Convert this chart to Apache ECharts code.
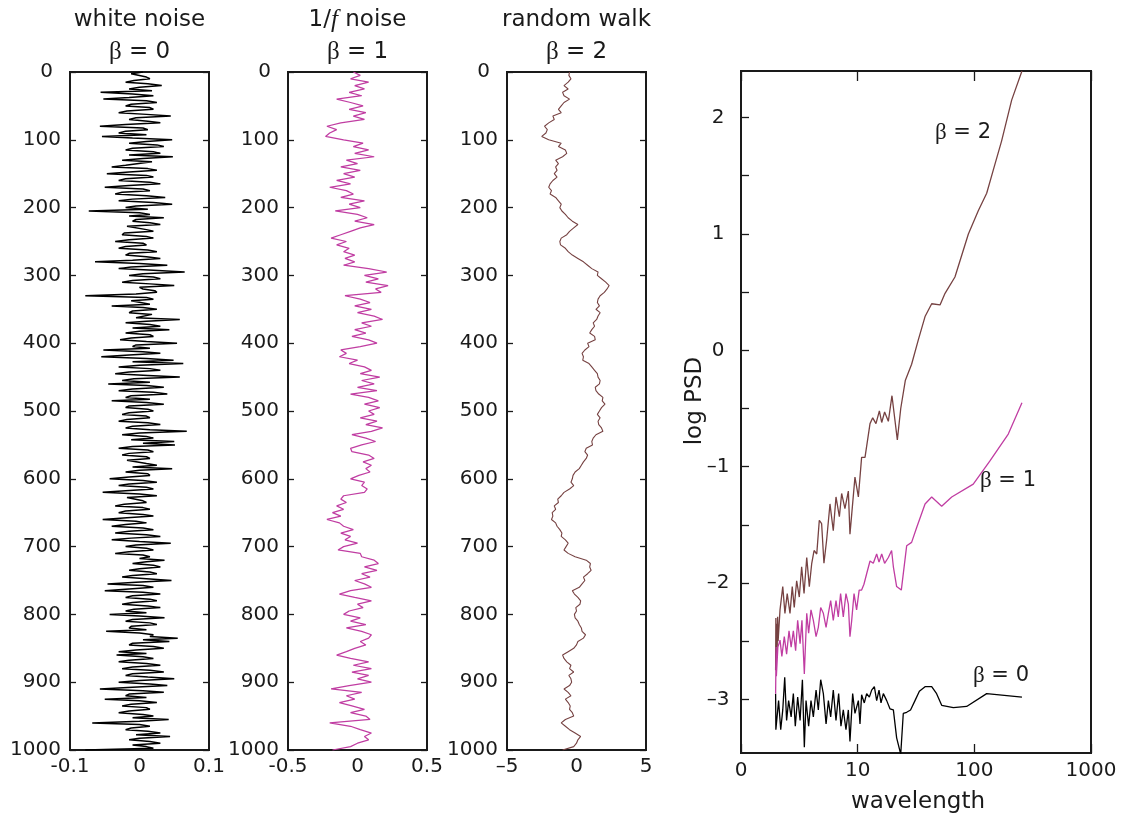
<!DOCTYPE html>
<html><head><meta charset="utf-8">
<script src="https://cdn.jsdelivr.net/npm/echarts@6/dist/echarts.min.js"></script>
<style>html,body{margin:0;padding:0;background:#fff}#c{width:1128px;height:814px}</style>
</head><body><div id="c"></div>
<script>
// ---------------- DATA ----------------
// depth sampling of the time series
const whiteStep = 2.5;   // white noise sampled every 2.5 depth units
const depthStep = 5;     // 1/f noise and random walk sampled every 5 units

const whiteNoise = [
0.005,-0.012,-0.01,0.01,0.015,-0.008,-0.02,0.012,0.032,0.0,-0.015,0.018,-0.056,-0.01,0.02,-0.015,-0.052,0.01,0.025,-0.012,
-0.02,0.015,0.02,-0.018,-0.03,0.01,0.045,-0.005,-0.015,0.012,0.03,-0.02,-0.057,0.005,0.012,-0.02,-0.03,0.01,-0.054,-0.01,
0.047,0.01,-0.015,0.025,0.035,-0.01,-0.02,0.02,0.03,-0.015,0.048,0.005,-0.025,0.018,0.02,-0.02,-0.04,0.012,0.025,-0.015,
-0.047,0.01,0.02,-0.02,-0.03,0.015,0.03,-0.015,-0.05,0.005,0.015,-0.025,-0.035,0.01,0.037,-0.01,-0.03,0.02,0.047,-0.005,
-0.02,0.012,-0.073,0.0,0.015,-0.015,0.035,-0.005,-0.01,0.015,0.03,-0.018,-0.02,0.01,0.02,-0.022,-0.025,0.01,0.02,-0.015,
-0.035,0.005,0.01,-0.02,-0.03,0.012,0.025,-0.015,-0.02,0.01,0.03,-0.01,-0.064,0.0,0.04,-0.012,-0.03,0.02,0.065,0.005,
-0.015,0.02,0.03,-0.01,-0.025,0.015,0.05,0.0,0.005,0.022,0.025,-0.005,-0.078,0.01,0.02,-0.012,-0.01,0.015,-0.04,0.005,
0.025,-0.01,-0.015,0.018,0.02,-0.005,0.058,0.01,-0.02,0.015,0.03,-0.01,0.043,0.0,-0.02,0.015,0.02,-0.012,-0.028,0.01,
0.054,-0.005,-0.01,0.015,-0.052,0.005,0.03,-0.015,-0.055,0.01,0.049,-0.01,0.063,0.0,-0.03,0.015,0.03,-0.015,-0.035,0.012,
0.058,-0.008,-0.025,0.015,-0.045,0.01,0.035,-0.01,-0.03,0.02,0.04,-0.012,-0.02,0.015,-0.04,0.01,0.035,-0.015,-0.02,0.012,
0.02,-0.015,-0.025,0.01,0.015,-0.018,-0.03,0.012,0.03,-0.01,-0.02,0.015,0.068,0.0,-0.025,0.01,0.02,-0.012,0.05,0.005,
0.051,-0.01,-0.03,0.012,0.02,-0.015,-0.025,0.01,0.015,-0.018,-0.02,0.01,0.025,-0.01,0.047,0.0,-0.02,0.012,0.015,-0.015,
-0.043,0.005,0.025,-0.015,-0.03,0.01,0.02,-0.02,-0.053,0.0,0.025,-0.018,-0.02,0.005,0.01,-0.022,-0.035,0.005,0.015,-0.02,
-0.03,0.005,0.02,-0.018,-0.053,-0.005,0.01,-0.02,-0.04,0.005,0.02,-0.015,-0.035,0.01,0.03,-0.012,-0.04,0.0,0.045,-0.005,
-0.02,0.01,0.02,-0.015,-0.035,0.005,0.015,0.0,0.036,0.01,-0.01,0.02,0.03,0.0,-0.015,0.015,0.025,-0.01,-0.025,0.01,
0.046,-0.005,-0.046,0.005,0.02,-0.015,-0.05,0.005,0.03,-0.01,-0.02,0.015,0.025,-0.01,-0.025,0.012,0.03,-0.008,-0.02,0.01,
-0.043,0.0,0.036,-0.01,-0.02,0.015,0.025,-0.012,-0.015,0.01,-0.048,0.0,0.02,0.015,0.055,0.005,0.043,-0.01,-0.015,0.02,
0.035,-0.005,-0.03,0.01,-0.033,0.005,0.02,-0.015,-0.03,0.01,0.03,-0.01,-0.025,0.015,0.035,-0.01,-0.02,0.012,0.05,0.0,
-0.03,0.015,0.04,-0.01,-0.057,0.005,0.035,-0.015,-0.02,0.01,-0.05,0.0,0.025,-0.012,-0.025,0.01,0.015,-0.015,-0.03,0.005,
0.02,-0.01,0.042,0.0,-0.068,0.0,0.015,-0.012,-0.02,0.012,0.03,-0.005,0.044,0.0,-0.015,0.015,0.03,-0.01,0.01,0.02,
-0.078
];

const pinkNoise = [
-0.03,0.02,-0.05,0.08,-0.02,0.05,-0.06,0.03,-0.15,-0.05,
0.04,-0.06,0.06,-0.03,0.05,-0.12,-0.22,-0.15,-0.2,-0.23,
-0.1,0.04,-0.03,0.08,-0.02,0.12,-0.08,0.0,-0.12,0.02,
-0.1,-0.02,-0.15,-0.05,-0.2,-0.08,-0.03,-0.12,0.05,-0.06,
0.02,-0.16,0.0,0.07,-0.02,0.12,0.02,-0.05,-0.12,-0.19,
-0.08,-0.15,-0.06,-0.1,-0.02,-0.09,-0.02,-0.1,0.08,0.21,
0.05,0.15,0.06,0.22,0.13,0.17,-0.09,0.02,0.09,-0.02,
0.1,0.0,0.12,0.18,0.03,0.1,-0.02,0.06,-0.04,0.08,
0.14,0.02,-0.12,-0.08,-0.13,0.0,-0.06,0.05,0.1,0.02,
0.16,0.03,0.12,0.0,0.14,-0.05,0.08,0.15,0.05,0.16,
0.08,0.12,0.02,0.14,0.06,0.18,0.1,-0.04,0.06,0.13,
0.03,-0.05,-0.04,0.08,0.12,0.04,0.1,0.06,0.09,0.01,
-0.05,0.05,0.03,0.07,0.05,-0.1,-0.12,-0.08,-0.15,-0.1,
-0.18,-0.12,-0.22,-0.13,-0.1,-0.03,-0.12,-0.05,-0.09,0.0,
-0.1,-0.14,0.02,0.03,0.12,0.15,0.05,0.14,0.03,0.09,
-0.02,0.05,0.1,-0.05,-0.13,-0.02,0.1,0.0,0.04,-0.06,
-0.1,0.02,-0.05,0.06,-0.08,0.03,0.1,0.08,0.02,0.06,
-0.02,-0.08,-0.15,-0.05,0.08,-0.03,0.1,-0.04,0.08,0.0,
0.1,-0.06,-0.19,0.03,-0.08,-0.02,-0.13,-0.04,0.05,-0.05,
0.06,0.09,-0.2,-0.05,0.02,0.1,0.05,0.08,0.0,-0.05,
-0.18
];

const randomWalk = [
-0.5,-0.55,-0.4,-0.6,-0.9,-0.6,-1.0,-0.9,-0.5,-0.9,
-1.1,-1.3,-1.1,-1.7,-1.6,-2.0,-2.3,-2.1,-2.2,-2.5,
-2.0,-1.1,-1.3,-0.8,-0.7,-1.0,-1.5,-1.3,-1.5,-1.4,
-1.6,-1.4,-1.7,-1.9,-2.0,-1.8,-1.9,-1.5,-1.3,-1.1,
-1.2,-1.05,-0.8,-0.6,-0.3,0.1,-0.2,-0.5,-0.7,-1.1,
-1.2,-1.15,-0.8,-0.6,-0.3,0.1,0.5,0.8,1.1,1.55,
1.5,1.8,2.1,2.35,2.2,2.0,1.7,1.55,1.5,1.65,
1.4,1.7,1.55,1.45,1.2,1.3,1.1,0.95,1.3,1.35,
0.8,0.9,0.6,0.4,0.5,0.45,0.9,1.1,1.3,1.5,
1.55,1.7,1.65,1.35,1.4,1.6,1.9,1.85,2.05,1.8,
1.65,1.5,1.7,1.55,1.6,1.8,1.9,1.4,1.2,1.1,
1.15,0.7,0.6,0.8,0.7,0.5,0.35,0.2,-0.1,-0.25,
-0.3,-0.4,-0.2,-0.5,-0.9,-1.1,-1.35,-1.3,-1.6,-1.5,
-1.75,-1.7,-1.8,-1.5,-1.4,-1.2,-1.05,-1.1,-0.8,-0.6,
-0.75,-0.9,-0.6,-0.1,0.7,1.0,0.95,1.05,0.8,0.5,
0.6,0.4,0.2,-0.3,-0.15,0.1,0.3,0.25,-0.05,0.0,
-0.15,-0.1,0.1,0.2,0.35,0.4,0.65,0.5,0.1,0.0,
-0.2,-0.6,-1.0,-0.9,-0.7,-0.4,-0.5,-0.2,-0.55,-0.4,
-0.35,-0.5,-0.9,-0.6,-0.4,-0.8,-0.6,-0.45,-0.5,-0.3,
-0.2,-0.8,-1.1,-0.8,-0.5,-0.1,0.3,0.1,0.0,-0.2,
-1.0
];

// power spectra: wavelength (log axis) and log PSD
const psdB0Wavelength = [1.98,1.99,2.04,2.10,2.19,2.28,2.37,2.46,2.56,2.69,2.81,2.92,3.06,3.21,3.36,3.49,3.61,3.80,3.98,4.17,4.40,4.60,4.82,5.08,5.36,5.61,5.87,6.18,6.52,6.87,7.19,7.53,7.94,8.32,8.59,9.06,9.48,10.14,10.47,10.81,11.40,11.94,12.59,13.18,13.90,14.55,15.24,15.85,16.6,17.74,18.92,20.23,21.58,23.39,24.6,26.3,28.4,31.0,33.8,37.8,43.1,47.5,52.5,66.1,85.9,127.6,256];
const psdB0 = [-2.95,-3.26,-3.26,-3.01,-3.26,-3.09,-2.81,-3.18,-3.01,-3.15,-2.95,-3.23,-2.98,-3.18,-2.83,-3.41,-3.01,-3.23,-3.01,-3.15,-2.92,-3.09,-2.83,-2.95,-3.21,-3.01,-3.15,-2.92,-3.18,-2.95,-3.23,-3.09,-3.26,-3.09,-3.36,-2.95,-3.12,-3.01,-3.21,-2.96,-3.03,-2.95,-2.98,-2.92,-2.89,-3.01,-2.92,-3.03,-2.95,-3.01,-3.08,-3.09,-3.33,-3.47,-3.12,-3.11,-3.09,-3.01,-2.93,-2.89,-2.89,-2.95,-3.05,-3.07,-3.06,-2.95,-2.98];

const psdB1Wavelength = [1.98,2.0,2.01,2.07,2.16,2.24,2.35,2.46,2.58,2.69,2.81,2.94,3.06,3.21,3.33,3.49,3.66,3.80,3.98,4.17,4.40,4.60,4.82,5.08,5.36,5.61,5.87,6.18,6.52,6.82,7.14,7.53,7.94,8.32,8.59,8.89,9.31,9.79,10.3,10.81,11.32,11.94,12.76,13.61,14.55,15.24,16.07,17.02,18.32,19.54,20.23,21.58,23.66,26.3,29.0,32.1,37.8,43.1,52.5,64.0,97.9,136.1,195.4,256];
const psdB1 = [-2.95,-2.55,-2.8,-2.55,-2.49,-2.63,-2.46,-2.61,-2.41,-2.55,-2.41,-2.58,-2.32,-2.52,-2.32,-2.78,-2.26,-2.43,-2.23,-2.32,-2.46,-2.38,-2.21,-2.26,-2.38,-2.26,-2.15,-2.32,-2.15,-2.29,-2.09,-2.29,-2.09,-2.18,-2.46,-2.32,-2.09,-2.23,-2.06,-2.06,-2.01,-1.92,-1.81,-1.83,-1.75,-1.82,-1.75,-1.83,-1.78,-1.72,-1.86,-2.03,-2.06,-1.68,-1.65,-1.52,-1.32,-1.26,-1.34,-1.26,-1.15,-0.95,-0.72,-0.45];

const psdB2Wavelength = [1.98,1.99,2.0,2.02,2.04,2.06,2.08,2.16,2.28,2.38,2.49,2.63,2.75,2.86,3.0,3.16,3.31,3.47,3.66,3.85,4.04,4.23,4.46,4.69,4.91,5.14,5.42,5.79,6.18,6.52,6.97,7.29,7.78,8.32,8.59,8.89,9.48,10.14,10.81,11.56,12.76,13.46,14.35,15.35,16.07,17.02,18.32,19.68,21.88,23.4,25.6,29.0,33.1,37.8,43.1,50.8,56.1,68.2,88.9,108.1,127.6,145.5,171.4,208.9,256];
const psdB2 = [-2.75,-2.3,-2.7,-2.35,-2.62,-2.29,-2.5,-2.23,-2.03,-2.26,-2.09,-2.26,-2.03,-2.21,-1.98,-2.12,-1.86,-2.09,-1.78,-2.03,-1.83,-1.72,-1.75,-1.46,-1.49,-1.83,-1.63,-1.32,-1.55,-1.26,-1.43,-1.23,-1.36,-1.21,-1.58,-1.41,-1.09,-1.26,-0.92,-0.92,-0.63,-0.58,-0.63,-0.52,-0.62,-0.53,-0.61,-0.39,-0.77,-0.5,-0.26,-0.12,0.09,0.29,0.4,0.39,0.49,0.63,1.0,1.2,1.35,1.55,1.8,2.15,2.4];

// tick values
const psdLabelTicks = [-3,-2,-1,0,1,2];
const psdMinorTicks = [-3,-2.5,-2,-1.5,-1,-0.5,0,0.5,1,1.5,2];

// ---------------- CHART ----------------
const FONT = 'DejaVu Sans';
const TXT = '#1a1a1a';
const FRAME = '#1a1a1a';
const C0 = '#000000', C1 = '#c03da2', C2 = '#764242';

const chart = echarts.init(document.getElementById('c'), null, {renderer: 'canvas'});

const fmtDec = v => (Math.abs(v) < 1e-9 ? '0' : (v < 0 ? '-' + Math.abs(v).toFixed(1) : v.toFixed(1)));
const panels = [
  {left: 70, data: whiteNoise, step: whiteStep, min: -0.1, max: 0.1, interval: 0.1, color: C0, width: 1.5, fmt: fmtDec},
  {left: 288, data: pinkNoise, step: depthStep, min: -0.5, max: 0.5, interval: 0.5, color: C1, width: 1.25, fmt: fmtDec},
  {left: 507, data: randomWalk, step: depthStep, min: -5, max: 5, interval: 5, color: C2, width: 1.1, fmt: v => (Math.abs(v) < 1e-9 ? '0' : (v < 0 ? '\u2013' + Math.abs(v) : String(v)))}
];
const PW = 139, PTOP = 72, PH = 678;

const grid = [], xAxis = [], yAxis = [], series = [];
const tickStyle = {color: FRAME, width: 1.3};
panels.forEach((p, i) => {
  grid.push({left: p.left, top: PTOP, width: PW, height: PH, show: true, borderColor: FRAME, borderWidth: 2, backgroundColor: 'transparent'});
  xAxis.push({
    type: 'value', gridIndex: i, min: p.min, max: p.max, interval: p.interval,
    axisLine: {show: false, onZero: false}, axisTick: {show: false}, splitLine: {show: false},
    axisLabel: {formatter: p.fmt, fontSize: 20, fontFamily: FONT, color: TXT, margin: 7, showMinLabel: true, showMaxLabel: true}
  });
  yAxis.push({
    type: 'value', gridIndex: i, inverse: true, min: 0, max: 1000, interval: 100, position: 'left',
    axisLine: {show: false, onZero: false}, splitLine: {show: false},
    axisTick: {show: true, inside: true, length: 6, lineStyle: tickStyle},
    axisLabel: {
      fontSize: 20, fontFamily: FONT, color: TXT, margin: 9,
      formatter: v => (v === 0 ? '{z|0}' : String(v)),
      rich: {z: {padding: [0, 8, 0, 0], fontSize: 20, fontFamily: FONT, color: TXT}}
    }
  });
  yAxis.push({
    type: 'value', gridIndex: i, inverse: true, min: 0, max: 1000, interval: 100, position: 'right',
    axisLine: {show: false, onZero: false}, splitLine: {show: false}, axisLabel: {show: false},
    axisTick: {show: true, inside: true, length: 6, lineStyle: tickStyle}
  });
  series.push({
    type: 'line', xAxisIndex: i, yAxisIndex: i * 2, showSymbol: false, symbol: 'none',
    data: p.data.map((v, k) => [v, k * p.step]),
    lineStyle: {color: p.color, width: p.width}, itemStyle: {color: p.color}, clip: true, z: 3
  });
});

// spectrum panel
grid.push({left: 741, top: 71, width: 350, height: 682, show: true, borderColor: FRAME, borderWidth: 2, backgroundColor: 'transparent'});
xAxis.push({
  type: 'log', logBase: 10, gridIndex: 3, min: 1, max: 1000, position: 'bottom',
  axisLine: {show: false, onZero: false}, splitLine: {show: false}, minorTick: {show: false},
  axisTick: {show: true, inside: true, length: 9, lineStyle: tickStyle},
  axisLabel: {fontSize: 20, fontFamily: FONT, color: TXT, margin: 8, formatter: v => (v === 1 ? '0' : String(Math.round(v))), showMinLabel: true, showMaxLabel: true}
});
xAxis.push({
  type: 'log', logBase: 10, gridIndex: 3, min: 1, max: 1000, position: 'top',
  axisLine: {show: false, onZero: false}, splitLine: {show: false}, axisLabel: {show: false},
  axisTick: {show: true, inside: true, length: 10, lineStyle: tickStyle}
});
yAxis.push({
  type: 'value', gridIndex: 3, min: -3.46, max: 2.4, position: 'left',
  axisLine: {show: false, onZero: false}, splitLine: {show: false},
  axisTick: {show: true, inside: true, length: 8, customValues: psdMinorTicks, lineStyle: tickStyle},
  axisLabel: {customValues: psdLabelTicks, fontSize: 20, fontFamily: FONT, color: TXT, margin: 23, align: 'center',
    formatter: v => (v < 0 ? '\u2013' + Math.abs(v) : String(v))}
});
const psdIdxY = yAxis.length - 1;
[[psdB0Wavelength, psdB0, C0], [psdB2Wavelength, psdB2, C2], [psdB1Wavelength, psdB1, C1]].forEach(([wl, vals, col]) => {
  series.push({
    type: 'line', xAxisIndex: 3, yAxisIndex: psdIdxY, showSymbol: false, symbol: 'none',
    data: wl.map((w, k) => [w, vals[k]]),
    lineStyle: {color: col, width: 1.3}, itemStyle: {color: col}, clip: true, z: 3
  });
});

function richLabel(rest, size) {
  return {
    text: '{b|\u03b2}{n|' + rest + '}',
    rich: {
      b: {fontFamily: 'Liberation Serif', fontSize: size + 2, fill: TXT},
      n: {fontFamily: FONT, fontSize: size, fill: TXT}
    },
    fontFamily: FONT, fontSize: size, fill: TXT, align: 'center', verticalAlign: 'middle'
  };
}
const centers = [139.5, 357.5, 576.5];
const plain = (t, size) => ({text: t, fontFamily: FONT, fontSize: size, fill: TXT, align: 'center', verticalAlign: 'middle'});
const graphic = [
  {type: 'text', x: centers[0], y: 20, style: plain('white noise', 23)},
  {type: 'text', x: centers[1], y: 20, style: {
    text: '{n|1/}{i|f}{n| noise}',
    rich: {n: {fontFamily: FONT, fontSize: 23, fill: TXT}, i: {fontFamily: 'Liberation Serif', fontStyle: 'italic', fontSize: 25, fill: TXT}},
    fontFamily: FONT, fontSize: 23, fill: TXT, align: 'center', verticalAlign: 'middle'}},
  {type: 'text', x: centers[2], y: 20, style: plain('random walk', 23)},
  {type: 'text', x: centers[0], y: 52, style: richLabel(' = 0', 23)},
  {type: 'text', x: centers[1], y: 52, style: richLabel(' = 1', 23)},
  {type: 'text', x: centers[2], y: 52, style: richLabel(' = 2', 23)},
  {type: 'text', x: 963, y: 133, style: richLabel(' = 2', 21)},
  {type: 'text', x: 1008, y: 481, style: richLabel(' = 1', 21)},
  {type: 'text', x: 1001, y: 676, style: richLabel(' = 0', 21)},
  {type: 'text', x: 695, y: 401, rotation: Math.PI / 2, style: plain('log PSD', 23)},
  {type: 'text', x: 918, y: 802, style: plain('wavelength', 23)}
];

chart.setOption({
  animation: false,
  backgroundColor: '#ffffff',
  grid, xAxis, yAxis, series, graphic
});
</script>
</body></html>
